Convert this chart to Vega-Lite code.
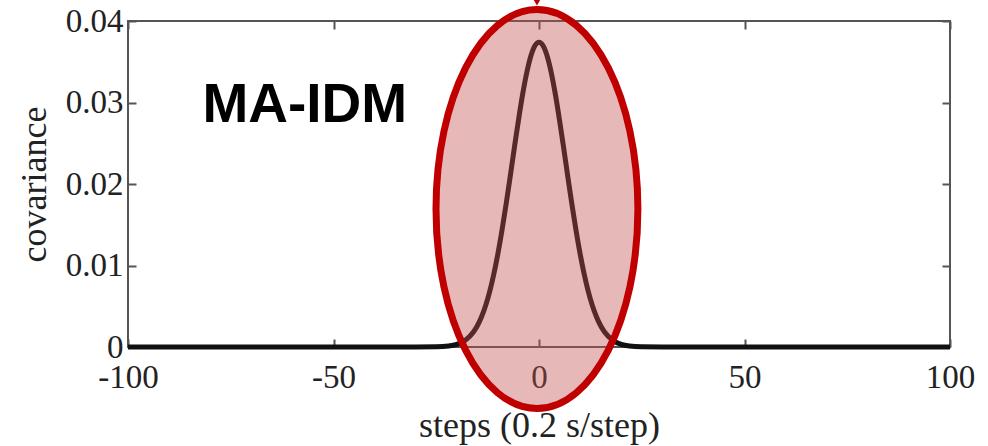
{
  "$schema": "https://vega.github.io/schema/vega-lite/v6.json",
  "width": 822,
  "height": 326,
  "autosize": "none",
  "padding": {"left": 128, "top": 21, "right": 38, "bottom": 99},
  "background": "white",
  "config": {
    "view": {"stroke": "#555555", "strokeWidth": 2},
    "axis": {
      "domain": false,
      "grid": false,
      "tickSize": -8,
      "tickWidth": 2,
      "tickColor": "#555555",
      "labelFont": "Liberation Serif",
      "labelFontSize": 33,
      "labelColor": "#222222",
      "labelFlush": false,
      "labelOverlap": false,
      "titleFont": "Liberation Serif",
      "titleFontSize": 36,
      "titleFontWeight": "normal",
      "titleColor": "#222222"
    }
  },
  "datasets": {
    "curve": [
      {"step": -100, "cov": 0},
      {"step": -60, "cov": 0},
      {"step": -30, "cov": 0},
      {"step": -25, "cov": 0.00002},
      {"step": -22, "cov": 0.00012},
      {"step": -20, "cov": 0.00033},
      {"step": -18, "cov": 0.00081},
      {"step": -16, "cov": 0.00181},
      {"step": -15, "cov": 0.00261},
      {"step": -14, "cov": 0.00368},
      {"step": -13, "cov": 0.00506},
      {"step": -12, "cov": 0.0068},
      {"step": -11, "cov": 0.00893},
      {"step": -10, "cov": 0.01145},
      {"step": -9, "cov": 0.01434},
      {"step": -8, "cov": 0.01754},
      {"step": -7, "cov": 0.02094},
      {"step": -6, "cov": 0.02443},
      {"step": -5, "cov": 0.02782},
      {"step": -4, "cov": 0.03095},
      {"step": -3, "cov": 0.03362},
      {"step": -2, "cov": 0.03567},
      {"step": -1, "cov": 0.03696},
      {"step": 0, "cov": 0.0374},
      {"step": 1, "cov": 0.03696},
      {"step": 2, "cov": 0.03567},
      {"step": 3, "cov": 0.03362},
      {"step": 4, "cov": 0.03095},
      {"step": 5, "cov": 0.02782},
      {"step": 6, "cov": 0.02443},
      {"step": 7, "cov": 0.02094},
      {"step": 8, "cov": 0.01754},
      {"step": 9, "cov": 0.01434},
      {"step": 10, "cov": 0.01145},
      {"step": 11, "cov": 0.00893},
      {"step": 12, "cov": 0.0068},
      {"step": 13, "cov": 0.00506},
      {"step": 14, "cov": 0.00368},
      {"step": 15, "cov": 0.00261},
      {"step": 16, "cov": 0.00181},
      {"step": 18, "cov": 0.00081},
      {"step": 20, "cov": 0.00033},
      {"step": 22, "cov": 0.00012},
      {"step": 25, "cov": 0.00002},
      {"step": 30, "cov": 0},
      {"step": 60, "cov": 0},
      {"step": 100, "cov": 0}
    ],
    "highlight": [{"step": -0.5, "cov": 0.01693}],
    "pointer": [{"step": -0.5, "cov": 0.0424}],
    "label": [{"step": -57, "cov": 0.0276, "text": "MA-IDM"}]
  },
  "layer": [
    {
      "data": {"name": "curve"},
      "mark": {"type": "line", "interpolate": "monotone", "stroke": "#111111", "strokeWidth": 5},
      "encoding": {
        "x": {
          "field": "step", "type": "quantitative",
          "scale": {"domain": [-100, 100], "nice": false, "zero": false},
          "axis": {
            "orient": "bottom",
            "values": [-100, -50, 0, 50, 100],
            "labelExpr": "'' + datum.value",
            "labelPadding": 22,
            "title": "steps (0.2 s/step)",
            "titlePadding": 14
          }
        },
        "y": {
          "field": "cov", "type": "quantitative",
          "scale": {"domain": [0, 0.04], "nice": false},
          "axis": {
            "orient": "left",
            "values": [0, 0.01, 0.02, 0.03, 0.04],
            "labelExpr": "datum.value == 0 ? '0' : format(datum.value, '.2f')",
            "labelPadding": 13,
            "title": "covariance",
            "titlePadding": 12
          }
        }
      }
    },
    {
      "data": {"name": "highlight"},
      "mark": {
        "type": "point",
        "shape": "M -0.506 0 A 0.506 1 0 1 0 0.506 0 A 0.506 1 0 1 0 -0.506 0 Z",
        "size": 159201,
        "filled": true,
        "opacity": 1,
        "fill": "#c0504d",
        "fillOpacity": 0.4,
        "stroke": "#c00000",
        "strokeWidth": 7,
        "strokeOpacity": 1
      },
      "encoding": {
        "x": {
          "field": "step", "type": "quantitative",
          "scale": {"domain": [-100, 100], "nice": false, "zero": false},
          "axis": {"orient": "top", "values": [-100, -50, 0, 50, 100], "labels": false, "title": null}
        },
        "y": {
          "field": "cov", "type": "quantitative",
          "scale": {"domain": [0, 0.04], "nice": false},
          "axis": {"orient": "right", "values": [0, 0.01, 0.02, 0.03, 0.04], "labels": false, "title": null}
        }
      }
    },
    {
      "data": {"name": "pointer"},
      "mark": {"type": "point", "shape": "triangle-down", "size": 90, "filled": true, "opacity": 1, "fill": "#c00000"},
      "encoding": {
        "x": {"field": "step", "type": "quantitative", "scale": {"domain": [-100, 100], "nice": false, "zero": false}, "axis": null},
        "y": {"field": "cov", "type": "quantitative", "scale": {"domain": [0, 0.04], "nice": false}, "axis": null}
      }
    },
    {
      "data": {"name": "label"},
      "mark": {"type": "text", "font": "Liberation Sans", "fontWeight": "bold", "fontSize": 55, "color": "#000000", "align": "center", "baseline": "alphabetic"},
      "encoding": {
        "x": {"field": "step", "type": "quantitative", "scale": {"domain": [-100, 100], "nice": false, "zero": false}, "axis": null},
        "y": {"field": "cov", "type": "quantitative", "scale": {"domain": [0, 0.04], "nice": false}, "axis": null},
        "text": {"field": "text"}
      }
    }
  ],
  "resolve": {"axis": {"x": "independent", "y": "independent"}}
}
